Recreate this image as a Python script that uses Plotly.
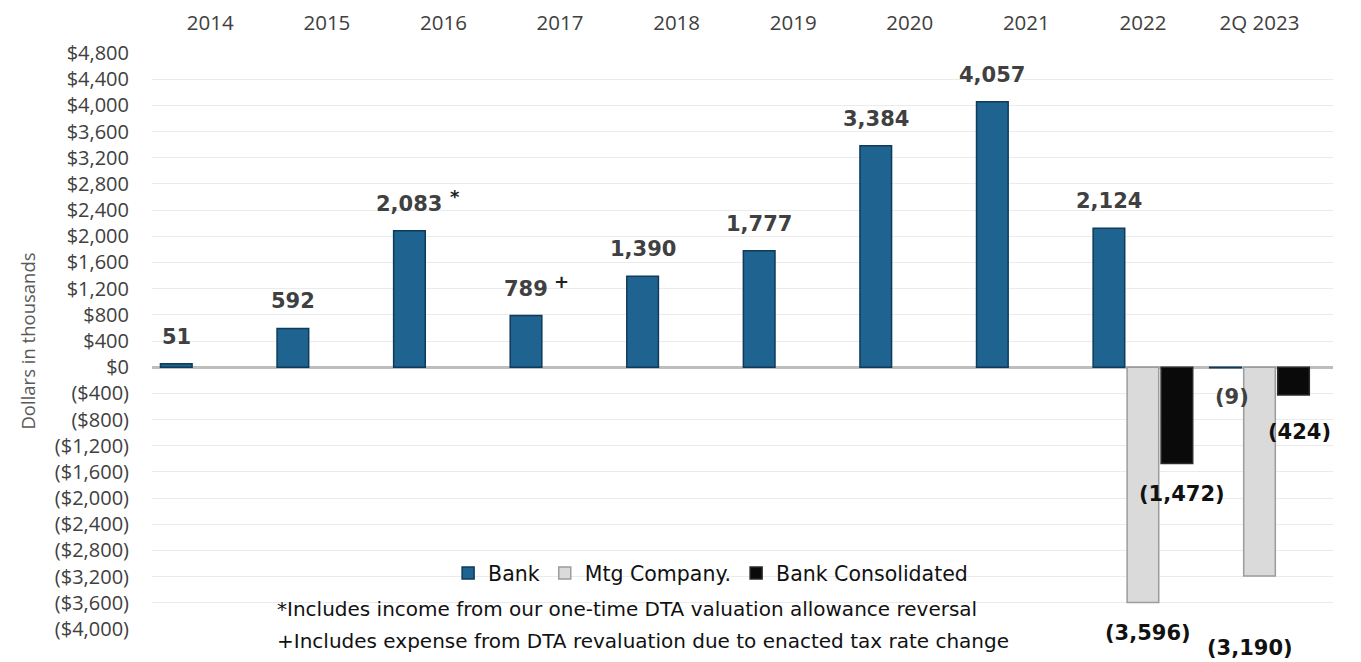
import plotly.graph_objects as go

years = ["2014", "2015", "2016", "2017", "2018", "2019", "2020", "2021", "2022", "2Q 2023"]
bank = [51, 592, 2083, 789, 1390, 1777, 3384, 4057, 2124, -9]
mtg = [None, None, None, None, None, None, None, None, -3596, -3190]
consolidated = [None, None, None, None, None, None, None, None, -1472, -424]
notes = {"2016": "*", "2017": "+"}
tick_values = list(range(-4000, 4801, 400))
footnotes = ["*Includes income from our one-time DTA valuation allowance reversal",
             "+Includes expense from DTA revaluation due to enacted tax rate change"]


def money(v):
    return "$0" if v == 0 else (f"${v:,}" if v > 0 else f"(${-v:,})")


def num(v):
    return f"{v:,}" if v >= 0 else f"({-v:,})"


BARGAP = 0.125
fig = go.Figure()
fig.add_trace(go.Bar(name="Bank", x=years, y=bank,
                     marker=dict(color="#1f6391", line=dict(color="#0e3b5a", width=1.5))))
fig.add_trace(go.Bar(name="Mtg Company.", x=years, y=mtg,
                     marker=dict(color="#dadada", line=dict(color="#9c9c9c", width=1.5))))
fig.add_trace(go.Bar(name="Bank Consolidated", x=years, y=consolidated,
                     marker=dict(color="#0a0a0a", line=dict(color="#2a2a2a", width=1.5))))

slot = (1 - BARGAP) / 3
ann = []
LBL = dict(family="DejaVu Sans", size=21)
for i, v in enumerate(bank):
    xpos = i - slot
    if v >= 0:
        ann.append(dict(x=xpos, y=v, text=f"<b>{num(v)}</b>", showarrow=False, yanchor="middle",
                        yshift=27, font=dict(color="#404040", **LBL)))
        if years[i] in notes:
            ann.append(dict(x=xpos, y=v, text=f"<b>{notes[years[i]]}</b>", showarrow=False,
                            yanchor="middle", yshift=34, xshift=46 if notes[years[i]] == "*" else 35,
                            font=dict(color="#202020", family="DejaVu Sans", size=18)))
    else:
        ann.append(dict(x=xpos, y=v, text=f"<b>{num(v)}</b>", showarrow=False, yanchor="middle",
                        yshift=-29, xshift=6, font=dict(color="#404040", **LBL)))

neg_shift = {("m", 8): (5, -30), ("m", 9): (-10, -72), ("c", 8): (5, -30), ("c", 9): (6, -37)}
for key, series, k in (("m", mtg, 0), ("c", consolidated, 1)):
    for i, v in enumerate(series):
        if v is None:
            continue
        dx, dy = neg_shift[(key, i)]
        ann.append(dict(x=i + k * slot, y=v, text=f"<b>{num(v)}</b>", showarrow=False,
                        yanchor="middle", xshift=dx, yshift=dy, font=dict(color="#111111", **LBL)))

for j, t in enumerate(footnotes):
    ann.append(dict(xref="paper", yref="paper", x=0.104, y=0.034 - j * 0.054, text=t,
                    showarrow=False, xanchor="left", yanchor="middle", align="left",
                    font=dict(family="DejaVu Sans", size=20, color="#111111")))

fig.update_layout(
    width=1361, height=662,
    margin=dict(l=152, r=28, t=53, b=33),
    barmode="group", bargap=BARGAP, bargroupgap=0.07,
    plot_bgcolor="white", paper_bgcolor="white",
    annotations=ann,
    legend=dict(orientation="h", x=0.473, y=0.097, xanchor="center", yanchor="middle",
                font=dict(family="DejaVu Sans", size=20.5, color="#111111"),
                bgcolor="rgba(255,255,255,0)", itemwidth=30, tracegroupgap=0),
    xaxis=dict(side="top", type="category", showgrid=False, showline=False, ticks="",
               tickfont=dict(family="Open Sans", size=20.5, color="#404040"),
               ticklabelstandoff=18, automargin=False),
    yaxis=dict(range=[-4000, 4800], tickvals=tick_values,
               ticktext=[money(v) for v in tick_values],
               tickfont=dict(family="Open Sans", size=20, color="#404040"),
               showgrid=True, gridcolor="#ebebeb", gridwidth=1,
               zeroline=True, zerolinecolor="#bdbdbd", zerolinewidth=3,
               ticks="", ticklabelstandoff=22, automargin=False,
               title=dict(text="Dollars in thousands", standoff=14,
                          font=dict(family="Open Sans", size=18.5, color="#595959"))),
)

fig.write_html("out.html")
